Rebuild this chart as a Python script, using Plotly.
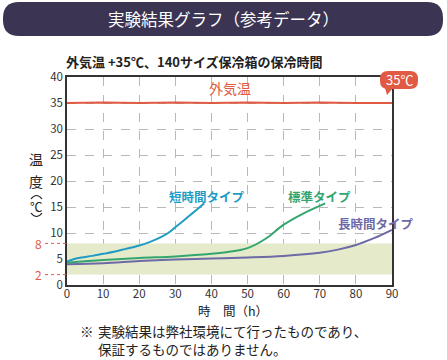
import plotly.graph_objects as go

# ---- data ----
hours_outside = [0, 10, 20, 30, 40, 50, 60, 70, 80, 90]
temp_outside = [35.0, 35.1, 35.0, 35.1, 35.0, 35.1, 35.0, 35.1, 35.0, 35.0]

hours_short = [0, 2, 4, 7, 10, 13, 16, 20, 23, 26, 28, 30, 33, 36, 38]
temp_short = [4.5, 5.0, 5.3, 5.6, 6.0, 6.4, 6.9, 7.6, 8.3, 9.2, 10.0, 11.1, 12.8, 14.5, 15.7]

hours_std = [0, 10, 20, 30, 40, 45, 50, 55, 60, 65, 71.5]
temp_std = [4.3, 4.8, 5.2, 5.5, 6.0, 6.4, 7.1, 8.9, 11.6, 13.6, 15.7]

hours_long = [0, 10, 20, 30, 40, 50, 60, 70, 75, 80, 85, 90]
temp_long = [4.0, 4.2, 4.6, 4.9, 5.1, 5.3, 5.6, 6.2, 6.8, 7.7, 9.0, 10.6]

band_low, band_high = 2, 8
x_ticks = [0, 10, 20, 30, 40, 50, 60, 70, 80, 90]
y_ticks = [0, 5, 10, 15, 20, 25, 30, 35, 40]

RED = "#e05a44"
BLUE = "#1e9cc4"
GREEN = "#35a56f"
PURPLE = "#6d6aa6"
DARK = "#222222"
FONT = "Noto Sans CJK JP"

# ---- layout geometry (pixels) ----
WIDTH, HEIGHT = 447, 360
L, R, T, B = 67, 55, 77, 75
PW = WIDTH - L - R
PH = HEIGHT - T - B


def px(x):
    return (x - L) / PW


def py(y):
    return (HEIGHT - B - y) / PH


def rounded_rect(x0, y0, x1, y1, r):
    pts = []
    pts.append(f"M {px(x0 + r)} {py(y0)}")
    pts.append(f"L {px(x1 - r)} {py(y0)}")
    pts.append(f"Q {px(x1)} {py(y0)} {px(x1)} {py(y0 + r)}")
    pts.append(f"L {px(x1)} {py(y1 - r)}")
    pts.append(f"Q {px(x1)} {py(y1)} {px(x1 - r)} {py(y1)}")
    pts.append(f"L {px(x0 + r)} {py(y1)}")
    pts.append(f"Q {px(x0)} {py(y1)} {px(x0)} {py(y1 - r)}")
    pts.append(f"L {px(x0)} {py(y0 + r)}")
    pts.append(f"Q {px(x0)} {py(y0)} {px(x0 + r)} {py(y0)}")
    pts.append("Z")
    return " ".join(pts)


def note(text, x, y, size, color, xanchor="center", **kw):
    d = dict(text=text, xref="paper", yref="paper", x=px(x), y=py(y),
             xanchor=xanchor, yanchor="middle", showarrow=False,
             font=dict(family=FONT, size=size, color=color))
    d.update(kw)
    return d


def dnote(text, x, y, size, color, **kw):
    d = dict(text=text, x=x, y=y, xanchor="center", yanchor="middle", showarrow=False,
             font=dict(family=FONT, size=size, color=color))
    d.update(kw)
    return d


fig = go.Figure()

# band 2-8
fig.add_trace(go.Scatter(x=[0, 90, 90, 0], y=[band_low, band_low, band_high, band_high],
                         fill="toself", fillcolor="#e4eaca", line=dict(width=0),
                         mode="lines", hoverinfo="skip", showlegend=False))

fig.add_trace(go.Scatter(x=hours_outside, y=temp_outside, mode="lines",
                         line=dict(color=RED, width=2), showlegend=False))
fig.add_trace(go.Scatter(x=hours_long, y=temp_long, mode="lines",
                         line=dict(color=PURPLE, width=2, shape="spline"), showlegend=False))
fig.add_trace(go.Scatter(x=hours_std, y=temp_std, mode="lines",
                         line=dict(color=GREEN, width=2, shape="spline"), showlegend=False))
fig.add_trace(go.Scatter(x=hours_short, y=temp_short, mode="lines",
                         line=dict(color=BLUE, width=2, shape="spline"), showlegend=False))

shapes = []
# title banner
shapes.append(dict(type="path", xref="paper", yref="paper",
                   path=rounded_rect(3, 2, 443, 36, 16),
                   fillcolor="#3b3553", line=dict(width=0), layer="below"))
# 35C bubble
shapes.append(dict(type="path", xref="paper", yref="paper",
                   path=rounded_rect(380, 71, 418, 89, 8),
                   fillcolor=RED, line=dict(width=0), layer="above"))
shapes.append(dict(type="path", xref="paper", yref="paper",
                   path=f"M {px(385)} {py(88)} L {px(393)} {py(88)} L {px(387)} {py(95)} Z",
                   fillcolor=RED, line=dict(width=0), layer="above"))
# vertical-text parentheses around the unit
shapes.append(dict(type="path", xref="paper", yref="paper",
                   path=f"M {px(31)} {py(199)} Q {px(36.5)} {py(192)} {px(42)} {py(199)}",
                   line=dict(color=DARK, width=1.2)))
shapes.append(dict(type="path", xref="paper", yref="paper",
                   path=f"M {px(31)} {py(213)} Q {px(36.5)} {py(220)} {px(42)} {py(213)}",
                   line=dict(color=DARK, width=1.2)))
# red dotted reference lines for 2 and 8
for v in (band_low, band_high):
    shapes.append(dict(type="line", xref="paper", yref="y",
                       x0=px(45), x1=0, y0=v, y1=v,
                       line=dict(color=RED, width=1, dash="dot")))

annotations = [
    note("実験結果グラフ（参考データ）", 223, 19, 16.5, "white"),
    note("<b>外気温 +35℃、140サイズ保冷箱の保冷時間</b>", 64, 61, 13, DARK, xanchor="left"),
    note("35℃", 399, 80, 13, "white"),
    dnote("外気温", 45, 37.9, 14, RED),
    dnote("<b>短時間タイプ</b>", 38.8, 17.1, 12.5, BLUE),
    dnote("<b>標準タイプ</b>", 70, 17.1, 12.5, GREEN),
    dnote("<b>長時間タイプ</b>", 85.7, 11.9, 12.5, PURPLE),
    dict(text="8", xref="paper", yref="y", x=px(38), y=band_high, xanchor="center",
         yanchor="middle", showarrow=False, font=dict(family=FONT, size=12, color=RED)),
    dict(text="2", xref="paper", yref="y", x=px(38), y=band_low, xanchor="center",
         yanchor="middle", showarrow=False, font=dict(family=FONT, size=12, color=RED)),
    note("温", 36, 159, 14, DARK),
    note("度", 36, 181, 14, DARK),
    note("℃", 36.5, 206, 12.5, DARK),
    note("時　間（h）", 233, 310, 12.5, DARK),
    note("※", 79, 330.5, 13.5, DARK, xanchor="left", borderpad=0),
    note("実験結果は弊社環境にて行ったものであり、", 97, 330.5, 13.5, DARK,
         xanchor="left", borderpad=0),
    note("保証するものではありません。", 97, 348.5, 13.5, DARK,
         xanchor="left", borderpad=0),
]

fig.update_layout(
    width=WIDTH, height=HEIGHT,
    margin=dict(l=L, r=R, t=T, b=B, pad=0),
    paper_bgcolor="white", plot_bgcolor="white",
    shapes=shapes, annotations=annotations,
    font=dict(family=FONT, size=11, color="#333333"),
    xaxis=dict(range=[0, 90], tickvals=x_ticks, showgrid=True, gridcolor="#b8b8b8",
               griddash="dash", gridwidth=1, showline=True, linecolor="#333333",
               linewidth=1.5, mirror=True, zeroline=False, ticks="", fixedrange=True,
               ticklabelstandoff=-3,
               tickfont=dict(size=11.5, color="#333333")),
    yaxis=dict(range=[0, 40], tickvals=y_ticks, showgrid=True, gridcolor="#b8b8b8",
               griddash="dash", gridwidth=1, showline=True, linecolor="#333333",
               linewidth=1.5, mirror=True, zeroline=False, ticks="", fixedrange=True,
               tickfont=dict(size=11.5, color="#333333")),
)

fig.write_html("out.html", config={"displayModeBar": False},
               post_script="document.body.style.margin='0px';")
